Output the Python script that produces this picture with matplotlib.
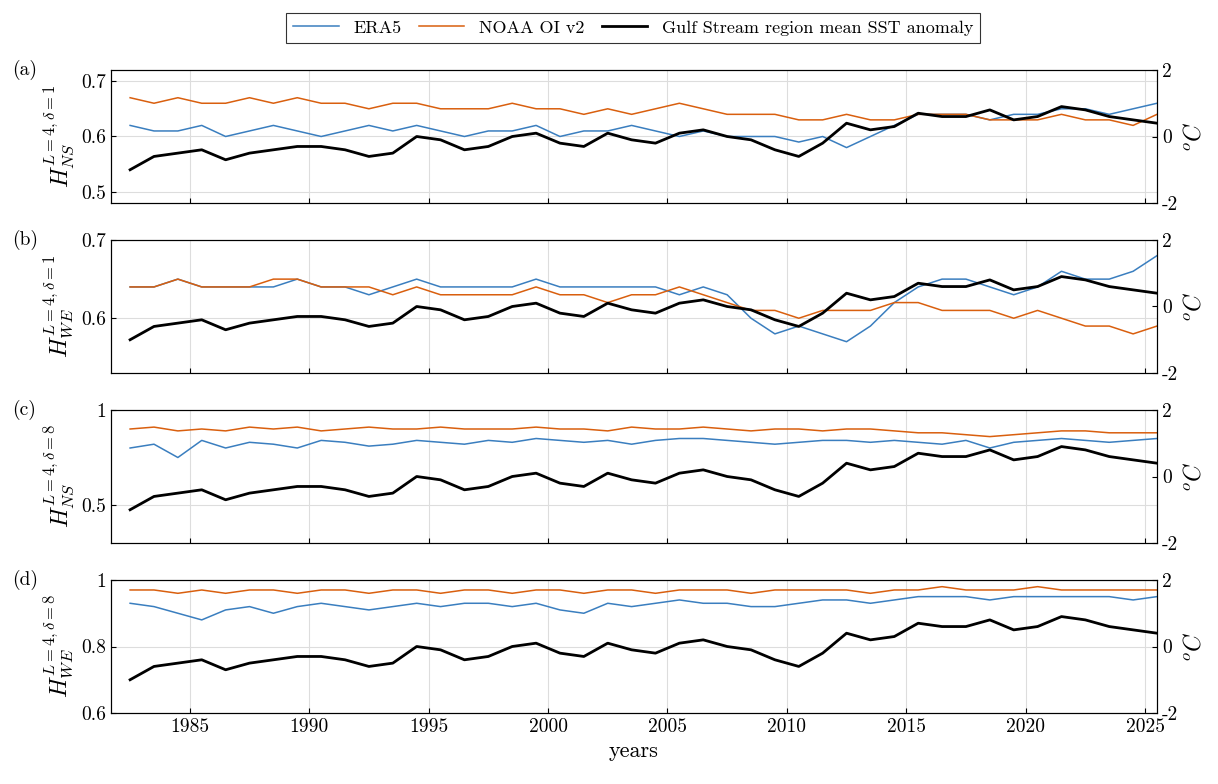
import numpy as np
import matplotlib
matplotlib.use('Agg')
import matplotlib.pyplot as plt

plt.rcParams.update({
    'font.family': 'serif',
    'font.serif': ['cmr10', 'DejaVu Serif'],
    'mathtext.fontset': 'cm',
    'axes.formatter.use_mathtext': False,
    'axes.unicode_minus': False,
    'font.size': 14,
    'xtick.direction': 'in',
    'ytick.direction': 'in',
    'axes.linewidth': 0.8,
})

# annual values (mid-year)
years = np.arange(1982, 2026) + 0.5
sst = [-1.0, -0.6, -0.5, -0.4, -0.7, -0.5, -0.4, -0.3, -0.3, -0.4, -0.6, -0.5, 0.0, -0.1,
       -0.4, -0.3, 0.0, 0.1, -0.2, -0.3, 0.1, -0.1, -0.2, 0.1, 0.2, 0.0, -0.1, -0.4, -0.6,
       -0.2, 0.4, 0.2, 0.3, 0.7, 0.6, 0.6, 0.8, 0.5, 0.6, 0.9, 0.8, 0.6, 0.5, 0.4]
era_a = [0.62, 0.61, 0.61, 0.62, 0.60, 0.61, 0.62, 0.61, 0.60, 0.61, 0.62, 0.61, 0.62, 0.61,
         0.60, 0.61, 0.61, 0.62, 0.60, 0.61, 0.61, 0.62, 0.61, 0.60, 0.61, 0.60, 0.60, 0.60,
         0.59, 0.60, 0.58, 0.60, 0.62, 0.64, 0.64, 0.64, 0.63, 0.64, 0.64, 0.65, 0.65, 0.64,
         0.65, 0.66]
noaa_a = [0.67, 0.66, 0.67, 0.66, 0.66, 0.67, 0.66, 0.67, 0.66, 0.66, 0.65, 0.66, 0.66, 0.65,
          0.65, 0.65, 0.66, 0.65, 0.65, 0.64, 0.65, 0.64, 0.65, 0.66, 0.65, 0.64, 0.64, 0.64,
          0.63, 0.63, 0.64, 0.63, 0.63, 0.64, 0.64, 0.64, 0.63, 0.63, 0.63, 0.64, 0.63, 0.63,
          0.62, 0.64]
era_b = [0.64, 0.64, 0.65, 0.64, 0.64, 0.64, 0.64, 0.65, 0.64, 0.64, 0.63, 0.64, 0.65, 0.64,
         0.64, 0.64, 0.64, 0.65, 0.64, 0.64, 0.64, 0.64, 0.64, 0.63, 0.64, 0.63, 0.60, 0.58,
         0.59, 0.58, 0.57, 0.59, 0.62, 0.64, 0.65, 0.65, 0.64, 0.63, 0.64, 0.66, 0.65, 0.65,
         0.66, 0.68]
noaa_b = [0.64, 0.64, 0.65, 0.64, 0.64, 0.64, 0.65, 0.65, 0.64, 0.64, 0.64, 0.63, 0.64, 0.63,
          0.63, 0.63, 0.63, 0.64, 0.63, 0.63, 0.62, 0.63, 0.63, 0.64, 0.63, 0.62, 0.61, 0.61,
          0.60, 0.61, 0.61, 0.61, 0.62, 0.62, 0.61, 0.61, 0.61, 0.60, 0.61, 0.60, 0.59, 0.59,
          0.58, 0.59]
era_c = [0.80, 0.82, 0.75, 0.84, 0.80, 0.83, 0.82, 0.80, 0.84, 0.83, 0.81, 0.82, 0.84, 0.83,
         0.82, 0.84, 0.83, 0.85, 0.84, 0.83, 0.84, 0.82, 0.84, 0.85, 0.85, 0.84, 0.83, 0.82,
         0.83, 0.84, 0.84, 0.83, 0.84, 0.83, 0.82, 0.84, 0.80, 0.83, 0.84, 0.85, 0.84, 0.83,
         0.84, 0.85]
noaa_c = [0.90, 0.91, 0.89, 0.90, 0.89, 0.91, 0.90, 0.91, 0.89, 0.90, 0.91, 0.90, 0.90, 0.91,
          0.90, 0.90, 0.90, 0.91, 0.90, 0.90, 0.89, 0.91, 0.90, 0.90, 0.91, 0.90, 0.89, 0.90,
          0.90, 0.89, 0.90, 0.90, 0.89, 0.88, 0.88, 0.87, 0.86, 0.87, 0.88, 0.89, 0.89, 0.88,
          0.88, 0.88]
era_d = [0.93, 0.92, 0.90, 0.88, 0.91, 0.92, 0.90, 0.92, 0.93, 0.92, 0.91, 0.92, 0.93, 0.92,
         0.93, 0.93, 0.92, 0.93, 0.91, 0.90, 0.93, 0.92, 0.93, 0.94, 0.93, 0.93, 0.92, 0.92,
         0.93, 0.94, 0.94, 0.93, 0.94, 0.95, 0.95, 0.95, 0.94, 0.95, 0.95, 0.95, 0.95, 0.95,
         0.94, 0.95]
noaa_d = [0.97, 0.97, 0.96, 0.97, 0.96, 0.97, 0.97, 0.96, 0.97, 0.97, 0.96, 0.97, 0.97, 0.96,
          0.97, 0.97, 0.96, 0.97, 0.97, 0.96, 0.97, 0.97, 0.96, 0.97, 0.97, 0.97, 0.96, 0.97,
          0.97, 0.97, 0.97, 0.96, 0.97, 0.97, 0.98, 0.97, 0.97, 0.97, 0.98, 0.97, 0.97, 0.97,
          0.97, 0.97]

panels = [
    ('(a)', r'$H_{NS}^{L=4,\delta=1}$', era_a, noaa_a, (0.48, 0.72), [0.5, 0.6, 0.7]),
    ('(b)', r'$H_{WE}^{L=4,\delta=1}$', era_b, noaa_b, (0.53, 0.70), [0.6, 0.7]),
    ('(c)', r'$H_{NS}^{L=4,\delta=8}$', era_c, noaa_c, (0.30, 1.00), [0.5, 1.0]),
    ('(d)', r'$H_{WE}^{L=4,\delta=8}$', era_d, noaa_d, (0.60, 1.00), [0.6, 0.8, 1.0]),
]

blue = '#3a7ebf'
orange = '#d95f0e'
fig = plt.figure(figsize=(12.18, 7.84), dpi=100)
tops = [70, 240, 410, 580]
h = 133
for i, (tag, lab, era, noaa, ylim, yt) in enumerate(panels):
    ax = fig.add_axes([111 / 1218, 1 - (tops[i] + h) / 784, 1046 / 1218, h / 784])
    l1, = ax.plot(years, era, color=blue, lw=1.1, label='ERA5')
    l2, = ax.plot(years, noaa, color=orange, lw=1.1, label='NOAA OI v2')
    ax.set_ylim(*ylim)
    ax.set_yticks(yt)
    ax.set_yticklabels([f'{v:g}' for v in yt])
    ax.set_xlim(1981.7, 2025.5)
    ax.set_xticks(np.arange(1985, 2026, 5))
    ax.grid(True, color='#dddddd', lw=0.8)
    ax.set_ylabel(lab, fontsize=17)
    ax.text(-0.095, 1.0, tag, transform=ax.transAxes, fontsize=14, va='center')
    ax2 = ax.twinx()
    l3, = ax2.plot(years, sst, color='black', lw=2, label='Gulf Stream region mean SST anomaly')
    ax2.set_ylim(-2, 2)
    ax2.set_yticks([-2, 0, 2])
    ax2.set_yticklabels(['-2', '0', '2'])
    ax2.set_ylabel(r'$^{o}C$', fontsize=17)
    if i < 3:
        ax.set_xticklabels([])
    else:
        ax.set_xlabel('years', fontsize=16)

leg = fig.legend([l1, l2, l3], ['ERA5', 'NOAA OI v2', 'Gulf Stream region mean SST anomaly'],
                 loc='upper center', bbox_to_anchor=(0.52, 0.995), ncol=3, fontsize=13,
                 fancybox=False, edgecolor='black', handlelength=2.5, columnspacing=1.0)
leg.get_frame().set_linewidth(0.8)
fig.savefig('out.png', dpi=100)
